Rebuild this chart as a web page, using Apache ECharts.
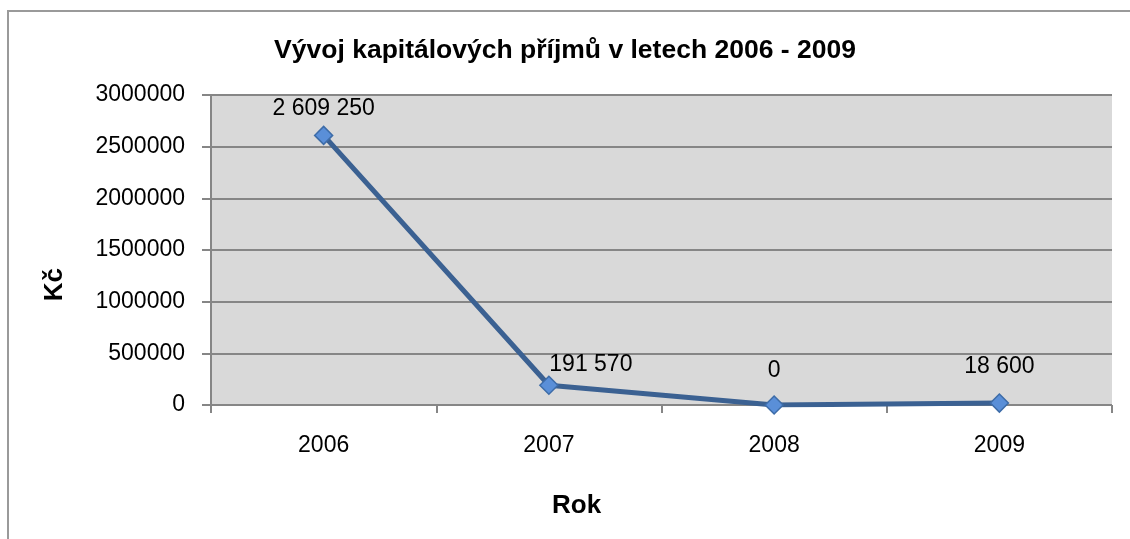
<!doctype html>
<html>
<head>
<meta charset="UTF-8">
<title>Vývoj kapitálových příjmů</title>
<script src="https://cdn.jsdelivr.net/npm/echarts@6/dist/echarts.min.js"></script>
<style>
    html, body { margin: 0; padding: 0; background: #fff; overflow: hidden; }
    #frame { position: absolute; left: 7px; top: 10px; width: 1200px; height: 600px; border: 2px solid #9a9a9a; box-sizing: border-box; }
    #main { position: absolute; left: 0; top: 0; width: 1130px; height: 539px; }
</style>
</head>
<body>
<div id="frame"></div>
<div id="main"></div>
<script>
    // data
    var years = ['2006', '2007', '2008', '2009'];
    var values = [2609250, 191570, 0, 18600];
    var yTicks = [0, 500000, 1000000, 1500000, 2000000, 2500000, 3000000];

    // "2 609 250" style
    function fmt(v) {
        return String(v).replace(/\B(?=(\d{3})+(?!\d))/g, ' ');
    }

    // label nudges, like the hand-moved labels in the original
    var nudges = [[0, 8], [42, 14], [0, 0], [0, -2]];
    var pts = values.map(function (v, i) {
        return { value: v, label: { offset: nudges[i] } };
    });

    var chart = echarts.init(document.getElementById('main'));
    var font = 'Liberation Sans, Arial, sans-serif';
    var option = {
        animation: false,
        title: {
            text: 'Vývoj kapitálových příjmů v letech 2006 - 2009',
            left: 'center',
            top: 32,
            textStyle: { fontFamily: font, fontSize: 26.5, fontWeight: 'bold', color: '#000' }
        },
        grid: { left: 211, top: 95, right: 18, bottom: 134, show: true, backgroundColor: '#d9d9d9', borderWidth: 0 },
        xAxis: {
            type: 'category',
            data: years,
            boundaryGap: true,
            axisLine: { show: false },
            axisTick: { show: true, alignWithLabel: false, length: 8, lineStyle: { color: '#868686', width: 2 } },
            axisLabel: { margin: 29, fontFamily: font, fontSize: 23, color: '#000' }
        },
        yAxis: {
            type: 'value',
            min: yTicks[0],
            max: yTicks[yTicks.length - 1],
            interval: yTicks[1] - yTicks[0],
            axisLine: { show: true, lineStyle: { color: '#868686', width: 2 } },
            axisTick: { show: true, length: 9, lineStyle: { color: '#868686', width: 2 } },
            splitLine: { show: true, lineStyle: { color: '#868686', width: 2 } },
            axisLabel: { margin: 26, fontFamily: font, fontSize: 23, color: '#000', formatter: function (v) { return String(v); } }
        },
        graphic: [
            {
                type: 'text', left: 42, top: 268, rotation: Math.PI / 2,
                style: { text: 'Kč', fontFamily: font, fontSize: 26, fontWeight: 'bold', fill: '#000' }
            },
            {
                type: 'text', left: 552, top: 493,
                style: { text: 'Rok', fontFamily: font, fontSize: 26, fontWeight: 'bold', fill: '#000' }
            }
        ],
        series: [{
            type: 'line',
            data: pts,
            symbol: 'diamond',
            symbolSize: 18,
            lineStyle: { color: '#3b6192', width: 5 },
            itemStyle: { color: '#5a8fd8', borderColor: '#3d6ca8', borderWidth: 1.5 },
            label: {
                show: true,
                position: 'top',
                distance: 13,
                fontFamily: font,
                fontSize: 23,
                color: '#000',
                formatter: function (p) { return fmt(p.value); }
            }
        }]
    };
    chart.setOption(option);
</script>
</body>
</html>
